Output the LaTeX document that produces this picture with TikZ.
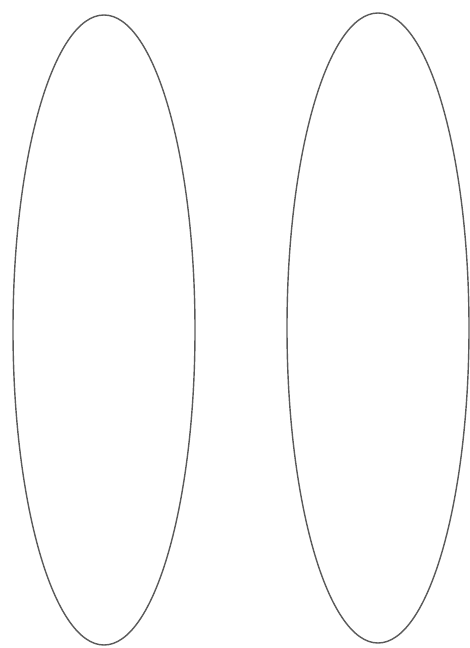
\documentclass[tikz,border=0pt]{standalone}
\usepackage{tikz}
\usetikzlibrary{positioning, shapes.geometric}
\usepackage{xcolor}
\definecolor{lensgray}{HTML}{5A5A5A}

\begin{document}
\begin{tikzpicture}[
    x=1pt, y=-1pt,
    lens/.style={draw=lensgray, line width=1.4pt, ellipse, inner sep=0pt,
                 minimum width=182pt, minimum height=630pt}
  ]
    % Frame
    \useasboundingbox (0, 0) rectangle (470, 648);

    % Ellipses
    \node[lens] (left) at (104, 330) {};
    \node[lens] (right) at (378, 328) {};
  \end{tikzpicture}
\end{document}
